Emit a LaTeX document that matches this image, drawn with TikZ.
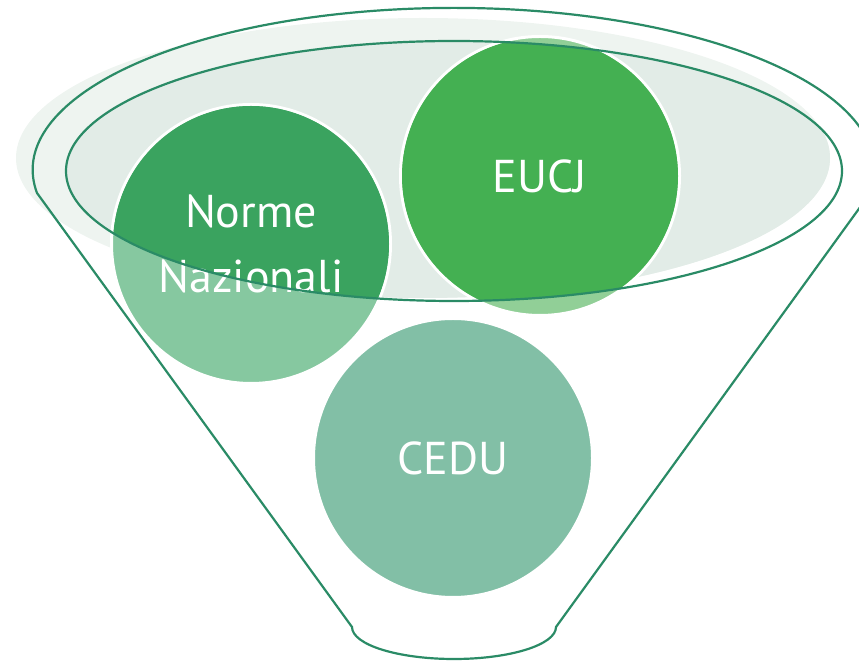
\documentclass[tikz,border=0pt]{standalone}
\usepackage{fontspec}
\setmainfont{PT Sans}
\definecolor{funnelline}{RGB}{42,139,102}
\definecolor{rimlight}{RGB}{238,244,240}
\definecolor{rimdark}{RGB}{226,236,231}
\definecolor{normedark}{RGB}{58,163,95}
\definecolor{normelight}{RGB}{134,200,160}
\definecolor{eucjdark}{RGB}{68,176,82}
\definecolor{eucjlight}{RGB}{145,207,151}
\definecolor{ceducol}{RGB}{130,191,166}
\begin{document}
\begin{tikzpicture}[x=1pt, y=1pt,
    bubble/.style={circle, draw=white, line width=3pt, minimum size=279pt, inner sep=0pt},
    bubbletext/.style={text=white, align=center, font=\fontsize{46}{65}\selectfont},
    outline/.style={draw=funnelline, line width=2.2pt}]

    \useasboundingbox (0,0) rectangle (859,661);

    % Rim
    \fill[rimlight] (423,503) ellipse [x radius=407, y radius=140];
    \begin{scope}
        \clip (454,490) ellipse [x radius=388, y radius=130];
        \fill[rimdark] (423,503) ellipse [x radius=407, y radius=140];
    \end{scope}

    % Nodes
    \node [bubble, fill=normelight] (norme) at (251,417) {};
    \node [bubble, fill=eucjlight] (eucj) at (540,485) {};
    \node [bubble, fill=ceducol] (cedu) at (453,203) {};
    \begin{scope}
        \clip (454,490) ellipse [x radius=388, y radius=130];
        \fill[normedark] (norme) circle (138);
        \fill[eucjdark] (eucj) circle (138);
    \end{scope}
    \node [bubbletext] (normetext) at (norme) {Norme\\Nazionali};
    \node [bubbletext] (eucjtext) at (eucj) {EUCJ};
    \node [bubbletext] (cedutext) at (cedu) {CEDU};

    % Funnel
    \draw[outline] (454,490) ellipse [x radius=388, y radius=130];
    \draw[outline] (37,468) arc [start angle=188.2, end angle=-8.2, x radius=421, y radius=162]
        -- (556,34) arc [start angle=0, end angle=-180, x radius=102, y radius=32] -- cycle;

\end{tikzpicture}
\end{document}
